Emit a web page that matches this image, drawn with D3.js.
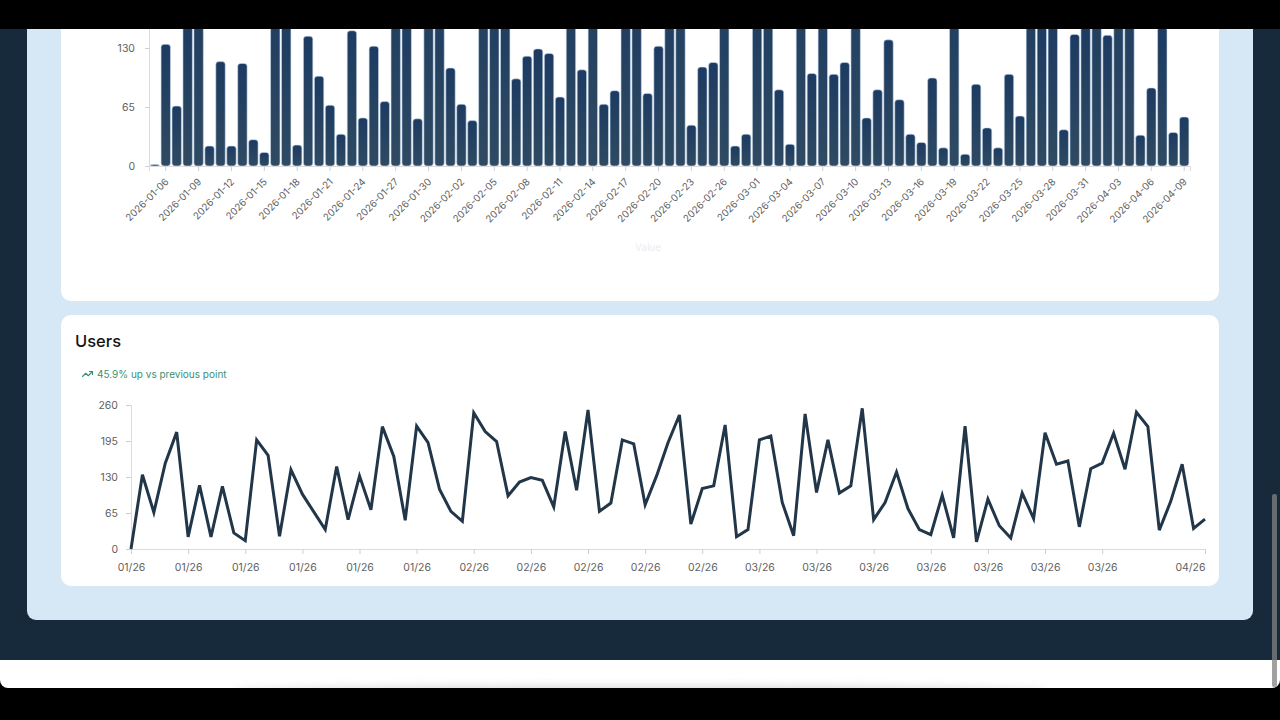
<!DOCTYPE html>
<html>
<head>
<meta charset="utf-8">
<script src="https://cdn.jsdelivr.net/npm/d3@7"></script>
<style>
  html, body { margin: 0; padding: 0; background: #000; overflow: hidden; }
  svg { display: block; font-family: Inter, "Noto Sans", sans-serif; }
</style>
</head>
<body>
<svg></svg>
<script>
// daily users, 2026-01-05 .. 2026-04-09
const users = [
  0, 134, 66, 155, 211, 22, 115, 22, 113, 29,
  15, 197, 169, 23, 143, 99, 67, 35, 149, 53,
  132, 71, 221, 167, 52, 222, 192, 108, 68, 50,
  246, 212, 194, 96, 121, 129, 124, 76, 212, 106,
  251, 68, 83, 197, 190, 80, 132, 192, 242, 45,
  109, 114, 224, 22, 35, 197, 204, 84, 24, 244,
  102, 197, 101, 114, 254, 53, 84, 139, 73, 35,
  26, 97, 20, 222, 13, 90, 42, 20, 101, 55,
  210, 153, 159, 40, 145, 155, 209, 144, 247, 221,
  34, 86, 153, 37, 54
];
const startDay = new Date(2026, 0, 5);
const days = d3.timeDay.range(startDay, d3.timeDay.offset(startDay, users.length));
const yTicks = [0, 65, 130, 195, 260];
const barYTicks = [0, 65, 130]; // the rest is scrolled out of view
const lineTickIdx = [0, 5, 10, 15, 20, 25, 30, 35, 40, 45, 50, 55, 60, 65, 70, 75, 80, 85, 94];
const barTickDays = days.filter((d, i) => i % 3 === 1);
const cardTitle = 'Users';
const changeLabel = '45.9% up vs previous point';
const barAxisTitle = 'Value';

const width = 1280;
const height = 720;
const navy = '#172a3c';
const axisGray = '#dcdcdc';
const labelGray = '#616161';

const svg = d3.select('svg')
  .attr('width', width)
  .attr('height', height);

const defs = svg.append('defs');
const grad = defs.append('linearGradient')
  .attr('id', 'barGrad')
  .attr('x1', 0).attr('y1', 0)
  .attr('x2', 0).attr('y2', 1);
grad.append('stop').attr('offset', '0%').attr('stop-color', '#1d3b62');
grad.append('stop').attr('offset', '100%').attr('stop-color', '#2f4a61');

defs.append('filter')
  .attr('id', 'blur')
  .attr('x', '-20%').attr('y', '-300%')
  .attr('width', '140%').attr('height', '700%')
  .append('feGaussianBlur')
  .attr('stdDeviation', 5);

defs.append('clipPath')
  .attr('id', 'stripClip')
  .append('rect')
  .attr('x', 0).attr('y', 660)
  .attr('width', width).attr('height', 28);

// page background
svg.append('rect')
  .attr('width', width)
  .attr('height', height)
  .attr('fill', '#000');

svg.append('rect')
  .attr('x', 0).attr('y', 630)
  .attr('width', width).attr('height', 58)
  .attr('rx', 8)
  .attr('fill', '#fff');

svg.append('g')
  .attr('clip-path', 'url(#stripClip)')
  .append('ellipse')
  .attr('cx', 640).attr('cy', 692)
  .attr('rx', 410).attr('ry', 5)
  .attr('fill', '#cfcfcf')
  .attr('filter', 'url(#blur)');

svg.append('rect')
  .attr('x', 0).attr('y', 0)
  .attr('width', width).attr('height', 660)
  .attr('fill', navy);

svg.append('rect')
  .attr('x', 27).attr('y', -100)
  .attr('width', 1226).attr('height', 720)
  .attr('rx', 9)
  .attr('fill', '#d6e8f6');

svg.append('rect')
  .attr('x', 61).attr('y', -300)
  .attr('width', 1158).attr('height', 601)
  .attr('rx', 10)
  .attr('fill', '#fff');

svg.append('rect')
  .attr('x', 61).attr('y', 315)
  .attr('width', 1158).attr('height', 271)
  .attr('rx', 10)
  .attr('fill', '#fff');

const styleAxis = (g) => {
  g.select('.domain').attr('stroke', axisGray);
  g.selectAll('.tick line').attr('stroke', '#cfcfcf');
  g.selectAll('.tick text')
    .attr('fill', labelGray)
    .style('font-size', '10.5px')
    .style('font-family', 'Inter, "Noto Sans", sans-serif');
};

// ---- bar chart (top card, scrolled) ----
const barBase = 166;
const bx = d3.scaleBand()
  .domain(days)
  .range([149, 1190])
  .paddingInner(0.14)
  .paddingOuter(0.1);

const by = d3.scaleLinear()
  .domain([0, 260])
  .range([barBase, barBase - 236]);

const barGroup = svg.append('g');

barGroup.append('g')
  .attr('transform', 'translate(149,0)')
  .call(d3.axisLeft(by).tickValues(barYTicks).tickSize(4).tickPadding(10))
  .call(styleAxis);

const barX = barGroup.append('g')
  .attr('transform', `translate(0,${barBase})`)
  .call(d3.axisBottom(bx)
    .tickValues(barTickDays)
    .tickSize(5)
    .tickFormat(d3.timeFormat('%Y-%m-%d')))
  .call(styleAxis);

barX.selectAll('.tick text')
  .attr('y', 0)
  .attr('dy', '0.35em')
  .attr('transform', 'translate(1,14) rotate(-45)')
  .style('text-anchor', 'end')
  .style('font-size', '9.8px');

barGroup.selectAll('rect.bar')
  .data(users)
  .join('rect')
  .attr('class', 'bar')
  .attr('x', (d, i) => bx(days[i]))
  .attr('width', bx.bandwidth())
  .attr('y', d => Math.min(by(d), barBase - 1.5))
  .attr('height', d => Math.max(barBase - by(d), 1.5))
  .attr('rx', 3)
  .attr('fill', 'url(#barGrad)')
  .attr('stroke', '#c9dcef')
  .attr('stroke-width', 0.6);

barGroup.append('text')
  .attr('x', 648)
  .attr('y', 251)
  .attr('text-anchor', 'middle')
  .attr('fill', '#ececec')
  .style('font-size', '10px')
  .text(barAxisTitle);

// ---- line chart (Users card) ----
const lineCard = svg.append('g');

lineCard.append('text')
  .attr('x', 75)
  .attr('y', 347)
  .attr('fill', '#151515')
  .style('font-size', '16.5px')
  .style('font-weight', 500)
  .text(cardTitle);

const icon = lineCard.append('g')
  .attr('transform', 'translate(81.5,368) scale(0.5)')
  .attr('fill', 'none')
  .attr('stroke', '#3b8f74')
  .attr('stroke-width', 2.2)
  .attr('stroke-linecap', 'round')
  .attr('stroke-linejoin', 'round');
icon.append('polyline').attr('points', '22 7 13.5 15.5 8.5 10.5 2 17');
icon.append('polyline').attr('points', '16 7 22 7 22 13');

lineCard.append('text')
  .attr('x', 97)
  .attr('y', 377.5)
  .attr('fill', '#3b8f74')
  .style('font-size', '10px')
  .text(changeLabel);

const lx = d3.scaleLinear()
  .domain([0, users.length - 1])
  .range([131, 1205]);

const ly = d3.scaleLinear()
  .domain([0, 260])
  .range([549, 405]);

lineCard.append('g')
  .attr('transform', 'translate(131,0)')
  .call(d3.axisLeft(ly).tickValues(yTicks).tickSize(5).tickPadding(8))
  .call(styleAxis);

const lineX = lineCard.append('g')
  .attr('transform', 'translate(0,549)')
  .call(d3.axisBottom(lx)
    .tickValues(lineTickIdx)
    .tickSize(5)
    .tickPadding(10)
    .tickFormat(i => d3.timeFormat('%m/%y')(days[i])))
  .call(styleAxis);

lineX.selectAll('.tick text')
  .filter(i => i === users.length - 1)
  .attr('text-anchor', 'end');

const line = d3.line()
  .x((d, i) => lx(i))
  .y(d => ly(d));

lineCard.append('path')
  .datum(users)
  .attr('d', line)
  .attr('fill', 'none')
  .attr('stroke', '#223649')
  .attr('stroke-width', 3)
  .attr('stroke-linejoin', 'miter');

// scrollbar thumb
svg.append('rect')
  .attr('x', 1272).attr('y', 494)
  .attr('width', 5).attr('height', 193)
  .attr('rx', 2)
  .attr('fill', 'rgba(130,130,130,0.75)');

// top letterbox
svg.append('rect')
  .attr('x', 0).attr('y', 0)
  .attr('width', width).attr('height', 29)
  .attr('fill', '#000');
</script>
</body>
</html>
